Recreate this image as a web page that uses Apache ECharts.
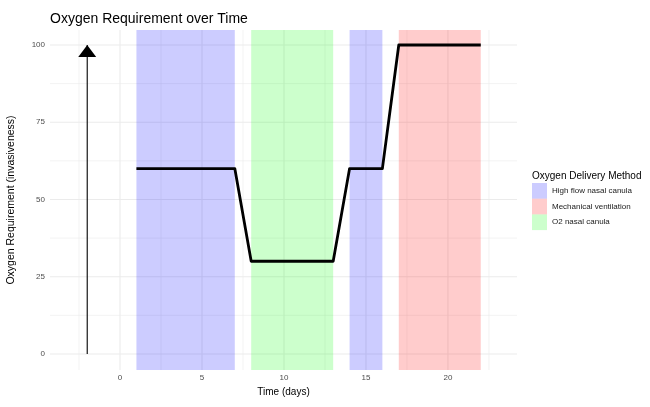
<!DOCTYPE html>
<html>
<head>
<meta charset="utf-8">
<script src="https://cdn.jsdelivr.net/npm/echarts@6/dist/echarts.min.js"></script>
<style>html,body{margin:0;padding:0;background:#fff}#c{width:650px;height:407px}</style>
</head>
<body>
<div id="c"></div>
<script>
// ---- data ----
var methods = ['High flow nasal canula', 'Mechanical ventilation', 'O2 nasal canula'];
var bandStart = [1, 14, 8, 17];
var bandEnd = [7, 16, 13, 22];
var bandMethod = ['High flow nasal canula', 'High flow nasal canula', 'O2 nasal canula', 'Mechanical ventilation'];
var timeDays = [1, 7, 8, 13, 14, 16, 17, 22];
var requirement = [60, 60, 30, 30, 60, 60, 100, 100];
var arrowX = [-2, -2];
var arrowY = [0, 100];
var xTicks = [0, 5, 10, 15, 20];
var xMinor = [-2.5, 2.5, 7.5, 12.5, 17.5, 22.5];
var yTicks = [0, 25, 50, 75, 100];
var yMinor = [12.5, 37.5, 62.5, 87.5];

// ---- chart ----
var FONT = 'Liberation Sans, Arial, sans-serif';
var methodColors = {
  'High flow nasal canula': 'rgba(0,0,255,0.2)',
  'Mechanical ventilation': 'rgba(255,0,0,0.2)',
  'O2 nasal canula': 'rgba(0,255,0,0.2)'
};

function vLine(width) {
  return function (params, api) {
    var cs = params.coordSys;
    var x = api.coord([api.value(0), 0])[0];
    return { type: 'line', shape: { x1: x, y1: cs.y, x2: x, y2: cs.y + cs.height },
      style: { stroke: '#ebebeb', lineWidth: width } };
  };
}
function hLine(width) {
  return function (params, api) {
    var cs = params.coordSys;
    var y = api.coord([0, api.value(1)])[1];
    return { type: 'line', shape: { x1: cs.x, y1: y, x2: cs.x + cs.width, y2: y },
      style: { stroke: '#ebebeb', lineWidth: width } };
  };
}
function bandItem(params, api) {
  var cs = params.coordSys;
  var x1 = api.coord([api.value(0), 0])[0];
  var x2 = api.coord([api.value(1), 0])[0];
  return { type: 'rect', shape: { x: x1, y: cs.y, width: x2 - x1, height: cs.height },
    style: { fill: api.visual('color') } };
}

var series = [
  { type: 'custom', silent: true, z: 0, renderItem: vLine(0.6), data: xMinor.map(function (v) { return [v, 0]; }), encode: { x: 0, y: 1 } },
  { type: 'custom', silent: true, z: 0, renderItem: hLine(0.6), data: yMinor.map(function (v) { return [0, v]; }), encode: { x: 0, y: 1 } },
  { type: 'custom', silent: true, z: 1, renderItem: vLine(1.1), data: xTicks.map(function (v) { return [v, 0]; }), encode: { x: 0, y: 1 } },
  { type: 'custom', silent: true, z: 1, renderItem: hLine(1.1), data: yTicks.map(function (v) { return [0, v]; }), encode: { x: 0, y: 1 } }
];
methods.forEach(function (m) {
  var d = [];
  for (var i = 0; i < bandStart.length; i++) if (bandMethod[i] === m) d.push([bandStart[i], bandEnd[i]]);
  series.push({ name: m, type: 'custom', z: 2, renderItem: bandItem, itemStyle: { color: methodColors[m] },
    data: d, encode: { x: [0, 1] } });
});
series.push({ type: 'line', z: 5, data: timeDays.map(function (t, i) { return [t, requirement[i]]; }),
  showSymbol: false, symbol: 'none', lineStyle: { color: '#000', width: 2.8, join: 'round' }, itemStyle: { color: '#000' } });
series.push({ type: 'line', z: 5, data: arrowX.map(function (x, i) { return [x, arrowY[i]]; }),
  symbol: 'none', lineStyle: { color: '#000', width: 1.1 } });
series.push({ type: 'scatter', z: 6, data: [[arrowX[1], arrowY[1]]], symbol: 'triangle', symbolSize: [18, 12],
  symbolOffset: [0, 6], itemStyle: { color: '#000', opacity: 1 } });

var chart = echarts.init(document.getElementById('c'), null, { renderer: 'canvas' });
chart.setOption({
  animation: false,
  backgroundColor: '#fff',
  textStyle: { fontFamily: FONT },
  title: [
    { text: 'Oxygen Requirement over Time', left: 50, top: 12, padding: 0, textStyle: { fontSize: 14, fontWeight: 'normal', color: '#000', fontFamily: FONT } },
    { text: 'Oxygen Delivery Method', left: 532, top: 171, padding: 0, textStyle: { fontSize: 10, fontWeight: 'normal', color: '#000', fontFamily: FONT } }
  ],
  legend: {
    data: methods, orient: 'vertical', left: 532, top: 183, padding: 0, itemWidth: 15, itemHeight: 15.7, itemGap: 0,
    icon: 'rect', textStyle: { fontSize: 8, color: '#1a1a1a', fontFamily: FONT }, selectedMode: false
  },
  grid: { left: 50, right: 133, top: 30, bottom: 37, containLabel: false, outerBoundsMode: 'none' },
  xAxis: {
    type: 'value', min: -4.27, max: 24.21,
    name: 'Time (days)', nameLocation: 'middle', nameGap: 11,
    nameTextStyle: { fontSize: 10, color: '#000', fontFamily: FONT },
    axisLine: { show: false }, axisTick: { show: false, customValues: xTicks }, splitLine: { show: false },
    axisLabel: { customValues: xTicks, fontSize: 8, color: '#4d4d4d', margin: 4, fontFamily: FONT }
  },
  yAxis: {
    type: 'value', min: -5.2, max: 104.85,
    name: 'Oxygen Requirement (invasiveness)', nameLocation: 'middle', nameGap: 33,
    nameTextStyle: { fontSize: 10.5, color: '#000', fontFamily: FONT },
    axisLine: { show: false }, axisTick: { show: false, customValues: yTicks }, splitLine: { show: false },
    axisLabel: { customValues: yTicks, fontSize: 8, color: '#4d4d4d', margin: 5, fontFamily: FONT }
  },
  series: series
});
</script>
</body>
</html>
